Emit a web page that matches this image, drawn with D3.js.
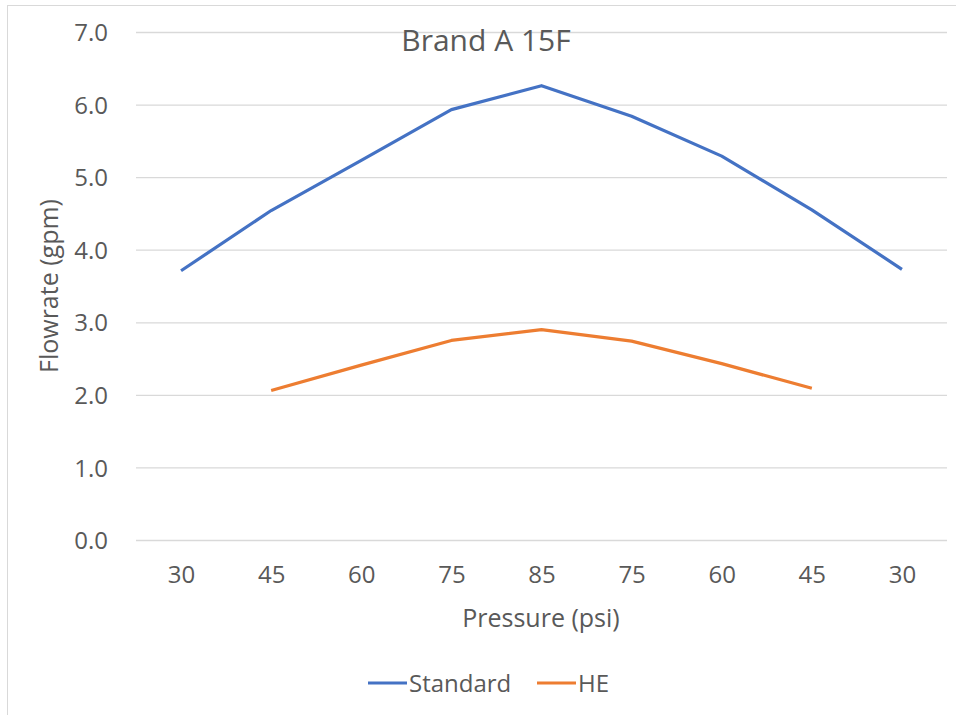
<!DOCTYPE html>
<html>
<head>
<meta charset="utf-8">
<script src="https://cdn.jsdelivr.net/npm/d3@7"></script>
<style>
  html, body { margin: 0; padding: 0; background: #fff; }
  svg { display: block; }
  text { font-family: "Open Sans", "Noto Sans", sans-serif; fill: #595959; }
</style>
</head>
<body>
<svg id="chart" width="956" height="715"></svg>
<script>
// Pressure steps (psi) going up to peak then back down
const pressures = ["30", "45", "60", "75", "85", "75", "60", "45", "30"];
// Flowrate (gpm) per pressure step
const standardFlow = [3.71, 4.54, 5.23, 5.93, 6.26, 5.84, 5.29, 4.55, 3.73];
const heFlow = [null, 2.06, 2.41, 2.75, 2.90, 2.74, 2.43, 2.09, null];
const yTicks = [0, 1, 2, 3, 4, 5, 6, 7];
const seriesNames = ["Standard", "HE"];
const seriesColors = ["#4472C4", "#ED7D31"];

const svg = d3.select("#chart");
const W = 956, H = 715;
const plot = { left: 136, right: 947, top: 32, bottom: 540 };

// chart frame
svg.append("rect")
  .attr("x", 7.5).attr("y", 5.5)
  .attr("width", W + 20).attr("height", H + 20)
  .attr("fill", "#fff").attr("stroke", "#d9d9d9").attr("stroke-width", 1);

const x = d3.scalePoint()
  .domain(d3.range(pressures.length))
  .range([plot.left, plot.right])
  .padding(0.5);

const y = d3.scaleLinear()
  .domain([0, 7])
  .range([plot.bottom, plot.top]);

// gridlines + y labels
const yAxis = d3.axisLeft(y)
  .tickValues(yTicks)
  .tickSize(-(plot.right - plot.left))
  .tickPadding(28)
  .tickFormat(d3.format(".1f"));

const gy = svg.append("g")
  .attr("transform", `translate(${plot.left},0)`)
  .call(yAxis);
gy.select(".domain").remove();
gy.selectAll(".tick line").attr("stroke", "#d9d9d9").attr("stroke-width", 1.3);
gy.selectAll(".tick text")
  .attr("font-size", 24)
  .attr("dy", "0.36em")
  .style("font-family", "'Open Sans', sans-serif")
  .attr("fill", "#595959");

// x labels
const xAxis = d3.axisBottom(x)
  .tickSize(0)
  .tickPadding(26)
  .tickFormat(i => pressures[i]);
const gx = svg.append("g")
  .attr("transform", `translate(0,${plot.bottom})`)
  .call(xAxis);
gx.select(".domain").remove();
gx.selectAll(".tick text")
  .attr("font-size", 24)
  .style("font-family", "'Open Sans', sans-serif")
  .attr("fill", "#595959");

// series lines
const line = d3.line()
  .defined(d => d != null)
  .x((d, i) => x(i))
  .y(d => y(d));

[standardFlow, heFlow].forEach((vals, k) => {
  svg.append("path")
    .datum(vals)
    .attr("fill", "none")
    .attr("stroke", seriesColors[k])
    .attr("stroke-width", 3.2)
    .attr("stroke-linejoin", "round")
    .attr("d", line);
});

// title
svg.append("text")
  .attr("x", 486).attr("y", 51)
  .attr("text-anchor", "middle")
  .attr("font-size", 30)
  .text("Brand A 15F");

// axis titles
svg.append("text")
  .attr("x", 541).attr("y", 627)
  .attr("text-anchor", "middle")
  .attr("font-size", 25)
  .text("Pressure (psi)");

svg.append("text")
  .attr("transform", "translate(58,286) rotate(-90)")
  .attr("text-anchor", "middle")
  .attr("font-size", 25)
  .text("Flowrate (gpm)");

// legend
const legendX = [368, 537];
seriesNames.forEach((name, k) => {
  const g = svg.append("g").attr("transform", `translate(${legendX[k]},683)`);
  g.append("line")
    .attr("x1", 0).attr("x2", 39)
    .attr("y1", 0).attr("y2", 0)
    .attr("stroke", seriesColors[k]).attr("stroke-width", 3.2);
  g.append("text")
    .attr("x", 41).attr("y", 0)
    .attr("dy", "0.36em")
    .attr("font-size", 24)
    .text(name);
});
</script>
</body>
</html>
